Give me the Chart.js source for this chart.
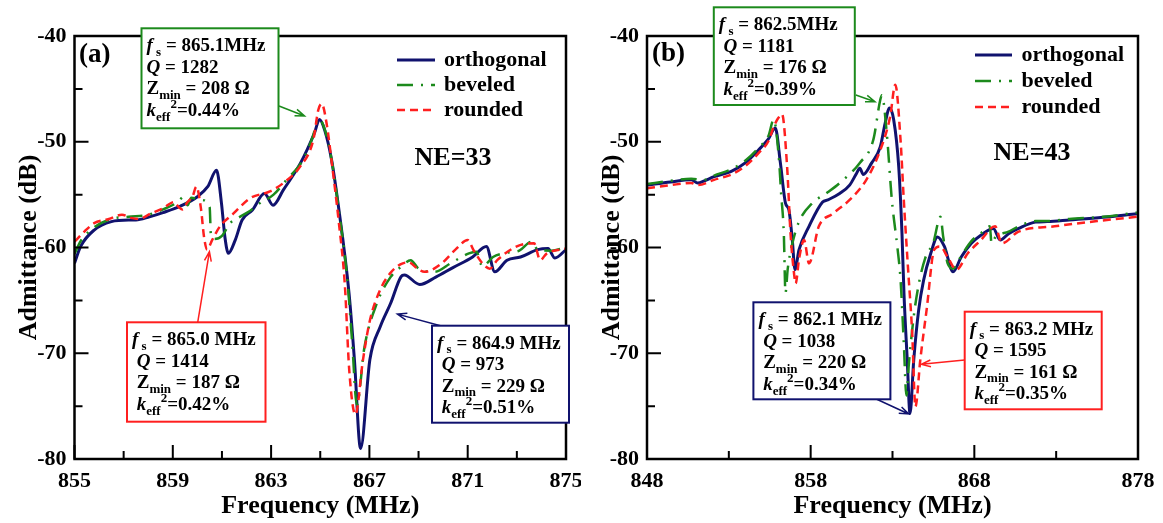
<!DOCTYPE html>
<html>
<head>
<meta charset="utf-8">
<script src="https://cdn.jsdelivr.net/npm/chart.js@4.4.1/dist/chart.umd.min.js"></script>
<style>
  html, body { margin: 0; padding: 0; background: #fff; }
  #wrap { position: relative; width: 1163px; height: 523px; }
  canvas { position: absolute; top: 0; }
  #chartA { left: 0; }
  #chartB { left: 581px; }
</style>
</head>
<body>
<div id="wrap">
  <canvas id="chartA" width="581" height="523"></canvas>
  <canvas id="chartB" width="582" height="523"></canvas>
</div>
<script>
// Admittance vs frequency for three IDT end shapes, NE=33 (a) and NE=43 (b)
const seriesLabels = ['orthogonal', 'beveled', 'rounded']

// ---- panel (a), NE=33 ----
const freqA_orth = [855.0, 855.25, 855.8, 856.5, 857.2, 857.5, 858.05, 858.6, 859.3, 860.0, 860.42, 860.78, 860.98, 861.12, 861.26, 861.54, 861.82, 862.24, 862.73, 863.08, 863.5, 864.2, 864.76, 864.97, 865.18, 865.46, 865.74, 866.17, 866.39, 866.64, 867.02, 867.44, 867.86, 868.29, 868.42, 869.05, 869.7, 870.4, 871.2, 871.76, 872.1, 872.6, 873.15, 873.85, 874.27, 874.55, 875.0]
const admA_orth = [-61.5, -59.9, -58.35, -57.55, -57.4, -57.4, -57.1, -56.7, -56.1, -55.2, -54.25, -52.7, -55.8, -59.0, -60.55, -59.3, -57.4, -56.45, -54.9, -56.0, -54.55, -52.0, -49.2, -47.9, -48.9, -51.7, -56.1, -64.3, -70.6, -79.0, -70.6, -67.5, -65.3, -62.75, -62.6, -63.5, -62.8, -61.9, -60.9, -59.9, -62.3, -61.2, -60.9, -60.2, -60.1, -61.0, -60.2]

const freqA_bev = [855.0, 855.25, 855.8, 856.5, 857.2, 858.0, 858.6, 859.2, 859.45, 859.6, 859.75, 860.15, 860.5, 860.55, 860.7, 861.0, 861.33, 861.73, 862.1, 862.55, 863.1, 863.63, 864.3, 864.7, 864.93, 865.18, 865.46, 865.74, 866.1, 866.3, 866.49, 866.8, 867.3, 867.86, 868.3, 868.68, 869.0, 869.66, 870.3, 871.05, 871.35, 871.6, 872.03, 872.6, 873.1, 873.6, 873.85, 874.4, 875.0]
const admA_bev = [-60.6, -59.4, -58.1, -57.3, -57.1, -56.9, -56.4, -55.7, -55.2, -56.0, -55.3, -55.5, -56.2, -58.8, -59.2, -58.9, -57.7, -57.1, -56.6, -55.8, -55.0, -53.6, -51.7, -49.5, -47.8, -48.8, -51.7, -56.2, -63.0, -69.0, -74.9, -69.4, -65.3, -62.8, -61.8, -61.2, -62.0, -62.3, -61.5, -60.55, -60.4, -61.8, -60.9, -60.5, -60.3, -59.45, -60.2, -60.3, -60.0]

const freqA_round = [855.0, 855.4, 855.8, 856.4, 856.93, 857.3, 857.6, 858.1, 858.6, 859.05, 859.25, 859.4, 859.6, 859.8, 859.96, 860.15, 860.27, 860.4, 860.6, 860.92, 861.46, 862.14, 862.95, 863.5, 864.18, 864.72, 864.92, 865.06, 865.26, 865.47, 865.75, 866.0, 866.18, 866.43, 866.74, 867.02, 867.44, 867.86, 868.26, 868.6, 868.96, 869.24, 869.94, 870.5, 871.0, 871.25, 871.6, 871.9, 872.2, 873.0, 873.7, 873.95, 874.2, 875.0]
const admA_round = [-59.45, -58.5, -57.7, -57.3, -56.9, -57.2, -57.3, -56.8, -56.3, -55.7, -56.2, -56.4, -55.7, -55.2, -54.25, -56.4, -59.0, -60.2, -59.3, -58.0, -56.8, -55.35, -54.7, -53.9, -52.35, -49.8, -47.0, -46.4, -48.3, -52.0, -57.5, -63.5, -71.6, -75.8, -70.6, -66.9, -64.0, -62.4, -61.6, -61.4, -62.0, -62.3, -61.5, -60.2, -59.3, -60.3, -61.5, -62.0, -61.2, -59.9, -59.6, -61.2, -60.6, -60.1]

// ---- panel (b), NE=43 ----
const freqB_orth = [848.0, 849.44, 850.7, 851.1, 851.5, 852.1, 853.15, 854.0, 854.8, 855.43, 855.84, 856.15, 856.46, 856.67, 856.88, 857.04, 857.29, 857.9, 858.73, 859.05, 859.77, 860.38, 860.8, 861.0, 861.21, 861.73, 862.25, 862.55, 862.82, 863.07, 863.38, 863.58, 863.7, 863.9, 864.07, 864.3, 864.6, 864.9, 865.34, 865.75, 866.17, 866.7, 867.2, 867.82, 868.44, 869.16, 869.58, 870.09, 870.71, 871.74, 872.46, 873.8, 875.87, 877.93]
const admB_orth = [-54.1, -53.8, -53.6, -53.9, -53.7, -53.3, -52.8, -52.0, -50.8, -49.7, -48.7, -52.0, -55.8, -56.45, -59.3, -62.1, -60.2, -58.0, -55.7, -55.5, -54.9, -54.1, -53.0, -52.5, -53.1, -52.0, -50.5, -48.25, -46.8, -47.9, -52.35, -58.7, -64.3, -70.6, -75.7, -70.6, -65.9, -63.1, -60.55, -59.0, -59.9, -62.3, -60.9, -59.6, -58.8, -58.2, -59.3, -58.7, -58.2, -57.6, -57.55, -57.4, -57.15, -56.8]

const freqB_bev = [848.0, 849.44, 850.7, 851.5, 852.1, 853.15, 854.0, 854.8, 855.43, 855.74, 856.05, 856.2, 856.36, 856.46, 856.6, 856.9, 857.29, 858.1, 858.93, 859.77, 861.0, 861.83, 862.25, 862.35, 862.65, 862.96, 863.3, 863.49, 863.69, 863.85, 864.0, 864.3, 864.6, 865.0, 865.5, 865.93, 866.1, 866.37, 866.7, 867.2, 867.82, 868.44, 868.95, 869.05, 869.3, 870.09, 870.71, 871.74, 872.46, 873.8, 875.87, 877.93]
const admB_bev = [-54.0, -53.7, -53.5, -53.6, -53.2, -52.6, -51.8, -50.6, -49.4, -47.9, -51.4, -55.0, -58.7, -64.3, -62.0, -59.5, -57.55, -55.8, -54.9, -53.9, -52.0, -49.8, -46.05, -45.6, -49.2, -55.5, -60.0, -63.0, -69.0, -74.0, -71.0, -66.5, -63.5, -61.0, -59.5, -57.1, -59.0, -61.5, -62.0, -60.8, -59.4, -58.6, -58.0, -59.6, -59.0, -58.5, -58.0, -57.5, -57.5, -57.3, -57.1, -56.7]

const freqB_round = [848.0, 849.44, 850.7, 851.1, 852.1, 853.15, 854.0, 854.8, 855.43, 855.74, 856.0, 856.25, 856.56, 856.77, 856.98, 857.08, 857.3, 857.6, 857.9, 858.5, 859.35, 860.38, 861.4, 862.25, 862.86, 863.17, 863.49, 863.69, 863.95, 864.2, 864.4, 864.7, 865.1, 865.55, 865.9, 866.4, 866.9, 867.6, 868.4, 869.27, 869.68, 870.7, 872.9, 875.5, 877.93]
const admB_round = [-54.4, -54.1, -53.9, -54.1, -53.6, -53.1, -52.3, -51.1, -49.9, -48.6, -47.8, -47.4, -52.35, -58.7, -62.4, -63.4, -61.0, -59.3, -61.5, -58.0, -56.8, -55.5, -53.6, -50.8, -47.6, -44.6, -49.8, -55.5, -62.0, -68.0, -75.05, -70.6, -65.7, -60.2, -59.9, -61.0, -62.1, -60.55, -59.3, -58.0, -59.6, -58.5, -58.0, -57.5, -57.1]

// ---- ticks ----
const xTicksA = [855, 857, 859, 861, 863, 865, 867, 869, 871, 873, 875]
const xLabelsA = [855, 859, 863, 867, 871, 875]
const xTicksB = [848, 853, 858, 863, 868, 873, 878]
const xLabelsB = [848, 858, 868, 878]
const yTicks = [-80, -75, -70, -65, -60, -55, -50, -45, -40]
const yLabels = [-80, -70, -60, -50, -40]

// ---- resonator parameter boxes ----
const notesA_bev = ['*f*_{ s} = 865.1MHz', '*Q* = 1282', 'Z_{min} = 208 Ω', '*k*_{eff}^{2}=0.44%']
const notesA_round = ['*f*_{ s} = 865.0 MHz', ' *Q* = 1414', ' Z_{min} = 187 Ω', ' *k*_{eff}^{2}=0.42%']
const notesA_orth = ['*f*_{ s} = 864.9 MHz', ' *Q* = 973', ' Z_{min} = 229 Ω', ' *k*_{eff}^{2}=0.51%']
const notesB_bev = ['*f*_{ s} = 862.5MHz', ' *Q* = 1181', ' Z_{min} = 176 Ω', ' *k*_{eff}^{2}=0.39%']
const notesB_orth = ['*f*_{ s} = 862.1 MHz', ' *Q* = 1038', ' Z_{min} = 220 Ω', ' *k*_{eff}^{2}=0.34%']
const notesB_round = ['*f*_{ s} = 863.2 MHz', ' *Q* = 1595', ' Z_{min} = 161 Ω', ' *k*_{eff}^{2}=0.35%']

const FAMILY = "'Liberation Serif', 'Times New Roman', serif"
const NAVY = '#10126e'
const GREEN = '#1c8a1c'
const RED = '#ff1f1f'

Chart.defaults.font.family = FAMILY
Chart.defaults.font.weight = 'bold'
Chart.defaults.color = '#000'

function pts(xs, ys) {
  return xs.map((x, i) => ({ x: x, y: ys[i] }))
}

function makeDatasets(orth, bev, round) {
  return [
    { label: seriesLabels[0], data: orth, borderColor: NAVY, borderWidth: 3, order: 2 },
    { label: seriesLabels[1], data: bev, borderColor: GREEN, borderWidth: 2.5, borderDash: [16, 8, 2, 8], order: 1 },
    { label: seriesLabels[2], data: round, borderColor: RED, borderWidth: 2.5, borderDash: [8, 5], order: 0 }
  ].map(d => Object.assign(d, { pointRadius: 0, fill: false, cubicInterpolationMode: 'monotone' }))
}

// split "*it*", "_{sub}", "^{sup}" markup into styled runs
function parseRich(str) {
  const segs = []
  const re = /\*([^*]+)\*|_\{([^}]*)\}|\^\{([^}]*)\}|([^*_^]+)/g
  let m
  while ((m = re.exec(str))) {
    if (m[1] !== undefined) segs.push({ t: m[1], it: true })
    else if (m[2] !== undefined) segs.push({ t: m[2], sub: true })
    else if (m[3] !== undefined) segs.push({ t: m[3], sup: true })
    else segs.push({ t: m[4] })
  }
  return segs
}

function drawRich(ctx, x, y, str, size) {
  let cx = x
  parseRich(str).forEach(s => {
    const small = s.sub || s.sup
    const fs = small ? Math.round(size * 0.7) : size
    ctx.font = (s.it ? 'italic ' : '') + 'bold ' + fs + 'px ' + FAMILY
    const dy = s.sub ? size * 0.32 : s.sup ? -size * 0.36 : 0
    ctx.fillText(s.t, cx, y + dy)
    cx += ctx.measureText(s.t).width
  })
}

function drawArrow(ctx, x0, y0, x1, y1, color) {
  const ang = Math.atan2(y1 - y0, x1 - x0)
  const h = 10
  ctx.strokeStyle = color
  ctx.lineWidth = 1.5
  ctx.beginPath()
  ctx.moveTo(x0, y0)
  ctx.lineTo(x1, y1)
  ctx.moveTo(x1 - h * Math.cos(ang - 0.35), y1 - h * Math.sin(ang - 0.35))
  ctx.lineTo(x1, y1)
  ctx.lineTo(x1 - h * Math.cos(ang + 0.35), y1 - h * Math.sin(ang + 0.35))
  ctx.stroke()
}

// frame, inward tick marks, legend, panel tags and parameter boxes
const panelDecor = {
  id: 'panelDecor',
  afterDraw(chart, args, opts) {
    const { ctx, chartArea: a } = chart
    const xs = chart.scales.x, ys = chart.scales.y
    ctx.save()

    ctx.strokeStyle = '#000'
    ctx.lineWidth = 2
    ctx.beginPath()
    xs.ticks.forEach(t => {
      const px = xs.getPixelForValue(t.value)
      const len = t.label ? 14 : 8
      ctx.moveTo(px, a.bottom)
      ctx.lineTo(px, a.bottom - len)
    })
    ys.ticks.forEach(t => {
      const py = ys.getPixelForValue(t.value)
      const len = t.label ? 14 : 8
      ctx.moveTo(a.left, py)
      ctx.lineTo(a.left + len, py)
    })
    ctx.stroke()
    ctx.lineWidth = 2.5
    ctx.strokeRect(a.left, a.top, a.right - a.left, a.bottom - a.top)

    // legend
    const lg = opts.legend
    ctx.textBaseline = 'middle'
    ctx.textAlign = 'left'
    chart.data.datasets.forEach((ds, i) => {
      const y = lg.y + i * lg.step
      ctx.strokeStyle = ds.borderColor
      ctx.lineWidth = ds.borderWidth
      ctx.setLineDash(ds.borderDash || [])
      ctx.beginPath()
      ctx.moveTo(lg.x0, y)
      ctx.lineTo(lg.x1, y)
      ctx.stroke()
      ctx.setLineDash([])
      ctx.fillStyle = '#000'
      ctx.font = 'bold 22px ' + FAMILY
      ctx.fillText(ds.label, lg.tx, y)
    })

    // panel tag and NE count
    ctx.font = 'bold 27px ' + FAMILY
    ctx.fillStyle = '#000'
    ctx.textAlign = 'left'
    ctx.fillText(opts.tag.text, opts.tag.x, opts.tag.y)
    ctx.textAlign = 'center'
    ctx.font = 'bold 26px ' + FAMILY
    ctx.fillText(opts.ne.text, opts.ne.x, opts.ne.y)

    // parameter boxes with arrows
    ctx.textAlign = 'left'
    opts.notes.forEach(n => {
      const tipX = xs.getPixelForValue(n.tip[0])
      const tipY = ys.getPixelForValue(n.tip[1])
      drawArrow(ctx, n.from[0], n.from[1], tipX, tipY, n.color)
      ctx.fillStyle = '#fff'
      ctx.fillRect(n.box[0], n.box[1], n.box[2], n.box[3])
      ctx.strokeStyle = n.color
      ctx.lineWidth = 2
      ctx.strokeRect(n.box[0], n.box[1], n.box[2], n.box[3])
      ctx.fillStyle = '#000'
      n.lines.forEach((s, i) => {
        drawRich(ctx, n.box[0] + 5, n.box[1] + 18 + i * 21.6, s, 19)
      })
    })
    ctx.restore()
  }
}

function scalesFor(xMin, xMax, xTicks, xLabels, yWidth, yTitlePad) {
  return {
    x: {
      type: 'linear', min: xMin, max: xMax,
      afterBuildTicks: s => { s.ticks = xTicks.map(v => ({ value: v })) },
      afterFit: s => { s.height = 64; s.paddingLeft = 0; s.paddingRight = 0 },
      ticks: {
        autoSkip: false, maxRotation: 0, padding: 9,
        font: { size: 22, weight: 'bold' }, color: '#000',
        callback: v => xLabels.includes(v) ? String(v) : ''
      },
      grid: { display: false, drawTicks: false },
      border: { display: false },
      title: { display: true, text: 'Frequency (MHz)', color: '#000', font: { size: 26, weight: 'bold' }, padding: { top: 0, bottom: 1 } }
    },
    y: {
      type: 'linear', min: -80, max: -40,
      afterBuildTicks: s => { s.ticks = yTicks.map(v => ({ value: v })) },
      afterFit: s => { s.width = yWidth },
      ticks: {
        autoSkip: false, padding: 8,
        font: { size: 22, weight: 'bold' }, color: '#000',
        callback: v => yLabels.includes(v) ? String(v) : ''
      },
      grid: { display: false, drawTicks: false },
      border: { display: false },
      title: { display: true, text: 'Admittance (dB)', color: '#000', font: { size: 26, weight: 'bold' }, padding: { top: yTitlePad, bottom: 0 } }
    }
  }
}

const chartA = new Chart(document.getElementById('chartA'), {
  type: 'line',
  data: { datasets: makeDatasets(pts(freqA_orth, admA_orth), pts(freqA_bev, admA_bev), pts(freqA_round, admA_round)) },
  options: {
    responsive: false, animation: false,
    layout: { padding: { top: 36, right: 15, left: 0, bottom: 0 } },
    scales: scalesFor(855, 875, xTicksA, xLabelsA, 74.5, 14),
    plugins: {
      legend: { display: false }, tooltip: { enabled: false },
      panelDecor: {
        legend: { x0: 397, x1: 435, tx: 444, y: 60, step: 25 },
        tag: { text: '(a)', x: 79, y: 55 },
        ne: { text: 'NE=33', x: 453, y: 158 },
        notes: [
          { lines: notesA_bev, color: GREEN, box: [141.5, 28.3, 137, 100], from: [279, 106], tip: [864.36, -47.56] },
          { lines: notesA_round, color: RED, box: [127, 322.3, 138.5, 99.4], from: [197.7, 322.3], tip: [860.49, -60.4] },
          { lines: notesA_orth, color: NAVY, box: [432, 325.7, 137, 97], from: [440.5, 325.7], tip: [868.14, -66.3] }
        ]
      }
    }
  },
  plugins: [panelDecor]
})

const chartB = new Chart(document.getElementById('chartB'), {
  type: 'line',
  data: { datasets: makeDatasets(pts(freqB_orth, admB_orth), pts(freqB_bev, admB_bev), pts(freqB_round, admB_round)) },
  options: {
    responsive: false, animation: false,
    layout: { padding: { top: 36, right: 25, left: 0, bottom: 0 } },
    scales: scalesFor(848, 878, xTicksB, xLabelsB, 66, 16),
    plugins: {
      legend: { display: false }, tooltip: { enabled: false },
      panelDecor: {
        legend: { x0: 394, x1: 431, tx: 440.5, y: 55, step: 26 },
        tag: { text: '(b)', x: 71, y: 54 },
        ne: { text: 'NE=43', x: 451, y: 153 },
        notes: [
          { lines: notesB_bev, color: GREEN, box: [132.8, 7.3, 141, 97.7], from: [274.8, 95], tip: [861.93, -46.21] },
          { lines: notesB_orth, color: NAVY, box: [172.4, 302.3, 137, 97], from: [295.8, 399.3], tip: [863.99, -75.74] },
          { lines: notesB_round, color: RED, box: [383.7, 311.7, 137, 97.6], from: [383.7, 360], tip: [864.76, -71.05] }
        ]
      }
    }
  },
  plugins: [panelDecor]
})
</script>
</body>
</html>
